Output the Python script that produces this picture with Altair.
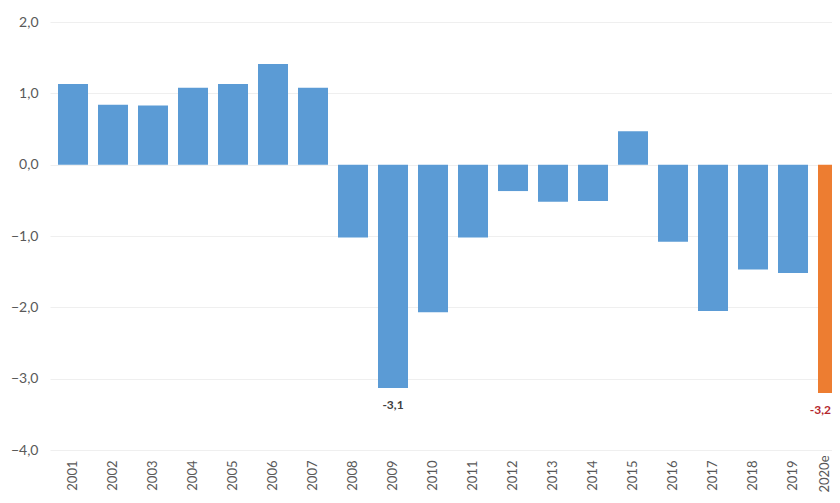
import altair as alt
import pandas as pd

years = ["2001", "2002", "2003", "2004", "2005", "2006", "2007", "2008", "2009", "2010",
         "2011", "2012", "2013", "2014", "2015", "2016", "2017", "2018", "2019", "2020e"]
values = [1.13, 0.84, 0.83, 1.08, 1.13, 1.41, 1.08, -1.02, -3.13, -2.07,
          -1.02, -0.37, -0.52, -0.51, 0.47, -1.08, -2.05, -1.47, -1.52, -3.20]
kinds = ["actual"] * 19 + ["estimate"]
labels = [""] * 8 + ["-3,1"] + [""] * 10 + ["-3,2"]
label_align = ["center"] * 19 + ["right"]

df = pd.DataFrame({"year": years, "value": values, "kind": kinds,
                   "label": labels, "align": label_align})

FONT = "Lato"

xscale = alt.Scale(paddingInner=0.25, paddingOuter=0.2, range=[0, 806])

x = alt.X("year:N", sort=years, title=None, scale=xscale,
          axis=alt.Axis(labelAngle=-90, ticks=False, domain=False,
                        labelPadding={"condition": {"test": "datum.value === '2020e'", "value": 5},
                                      "value": 10},
                        labelOffset={"condition": {"test": "datum.value === '2020e'", "value": -8},
                                     "value": 0},
                        labelFont=FONT, labelFontSize=13, labelColor="#595959"))

bars = alt.Chart(df).mark_bar(clip=True).encode(
    x=x,
    y=alt.Y("value:Q", title=None,
            scale=alt.Scale(domain=[-4, 2], nice=False),
            axis=alt.Axis(values=[-4, -3, -2, -1, 0, 1, 2], ticks=False, domain=False,
                          labelPadding=12,
                          labelFont=FONT, labelFontSize=14, labelColor="#595959",
                          gridColor="#EFEFEF", gridWidth=1,
                          labelExpr="replace(format(datum.value, '.1f'), '.', ',')")),
    color=alt.Color("kind:N", legend=None,
                    scale=alt.Scale(domain=["actual", "estimate"], range=["#5B9BD5", "#ED7D31"])),
)

text_base = alt.Chart(df).mark_text(
    baseline="top", dy=12, font=FONT, fontSize=12, fontWeight="bold"
).encode(
    x=alt.X("year:N", sort=years, scale=xscale),
    y=alt.Y("value:Q"),
    text="label:N",
    color=alt.Color("kind:N", legend=None,
                    scale=alt.Scale(domain=["actual", "estimate"], range=["#404040", "#B5272D"])),
)

text_mid = text_base.transform_filter("datum.label != '' && datum.align == 'center'")
text_right = text_base.transform_filter(
    "datum.label != '' && datum.align == 'right'"
).mark_text(baseline="top", dy=12, dx=-2, align="right", font=FONT, fontSize=12, fontWeight="bold")

chart = alt.layer(bars, text_mid, text_right).resolve_scale(color="independent").properties(
    width=782, height=428,
    autosize=alt.AutoSizeParams(type="none"),
    padding={"left": 42, "top": 14, "right": 0, "bottom": 44},
    background="white",
).configure_view(stroke=None)

chart.save("out.html", embed_options={"renderer": "svg", "actions": False})
